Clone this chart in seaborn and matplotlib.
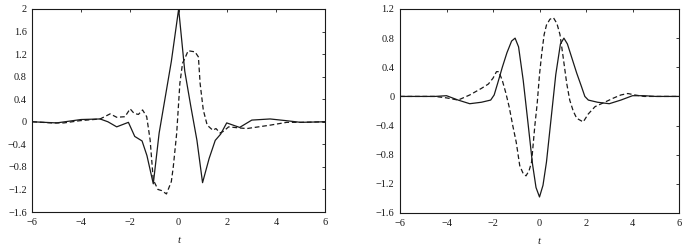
import numpy as np
import pandas as pd
import seaborn as sns
import matplotlib
matplotlib.use("Agg")
import matplotlib.pyplot as plt

# ---- Left panel data ----
left_solid_t = [-6, -5.0, -4.0, -3.22, -2.9, -2.54, -2.06, -1.8, -1.5, -1.3, -1.04,
                -0.8, -0.3, 0.0, 0.25, 0.5, 0.75, 0.98, 1.25, 1.5, 1.72, 1.97,
                2.5, 3.0, 3.75, 4.4, 5.0, 6]
left_solid_y = [0.0, -0.02, 0.04, 0.05, 0.0, -0.09, -0.01, -0.26, -0.34, -0.6, -1.1,
                -0.2, 1.07, 2.0, 0.9, 0.27, -0.33, -1.08, -0.65, -0.33, -0.22, -0.02,
                -0.1, 0.03, 0.05, 0.02, -0.01, 0.0]

left_dash_t = [-6, -5.2, -4.7, -4.04, -3.22, -2.81, -2.54, -2.2, -1.99, -1.83, -1.65,
               -1.48, -1.31, -1.17, -1.04, -0.85, -0.7, -0.5, -0.3, -0.22, -0.08,
               0.05, 0.16, 0.25, 0.39, 0.67, 0.81, 0.88, 1.01, 1.17, 1.4, 1.53, 1.7,
               1.83, 2.05, 2.5, 2.8, 3.75, 4.43, 5.0, 6]
left_dash_y = [0.0, -0.02, -0.02, 0.02, 0.05, 0.14, 0.08, 0.09, 0.23, 0.15, 0.13,
               0.21, 0.09, -0.32, -1.03, -1.2, -1.22, -1.28, -1.06, -0.8, -0.2,
               0.68, 1.04, 1.12, 1.26, 1.24, 1.15, 0.68, 0.21, -0.06, -0.15, -0.12, -0.2,
               -0.17, -0.09, -0.11, -0.12, -0.06, -0.01, -0.01, 0.0]

# ---- Right panel data ----
right_solid_t = [-6, -5, -4.5, -4, -3.5, -3, -2.5, -2.1, -1.95, -1.8, -1.6, -1.4, -1.2,
                 -1.05, -0.9, -0.7, -0.5, -0.3, -0.15, 0, 0.15, 0.3, 0.5, 0.7, 0.9,
                 1.05, 1.2, 1.4, 1.6, 1.8, 1.95, 2.1, 2.5, 3, 3.5, 4, 4.5, 5, 6]
right_solid_y = [0, 0, 0.0, 0.01, -0.05, -0.1, -0.08, -0.05, 0.02, 0.18, 0.4, 0.6, 0.76,
                 0.8, 0.68, 0.22, -0.35, -0.93, -1.25, -1.38, -1.22, -0.9, -0.3, 0.3, 0.72,
                 0.8, 0.72, 0.52, 0.32, 0.14, 0.0, -0.05, -0.08, -0.1, -0.05, 0.01, 0.01, 0, 0]

right_dash_t = [-6, -5, -4.5, -4, -3.5, -3, -2.5, -2.2, -2.0, -1.85, -1.75, -1.6, -1.45,
                -1.3, -1.15, -1.0, -0.85, -0.7, -0.58, -0.45, -0.34, -0.2, -0.1, 0.0,
                0.1, 0.2, 0.3, 0.45, 0.6, 0.75, 0.88, 1.0, 1.17, 1.3, 1.45, 1.6, 1.88,
                2.1, 2.39, 2.8, 3.2, 3.5, 3.8, 4.1, 4.5, 5, 6]
right_dash_y = [0, 0, 0, -0.02, -0.05, 0.02, 0.11, 0.17, 0.25, 0.34, 0.34, 0.22, 0.05,
                -0.15, -0.4, -0.63, -0.95, -1.06, -1.09, -1.02, -0.9, -0.4, -0.1, 0.3,
                0.6, 0.85, 0.98, 1.06, 1.08, 1.0, 0.85, 0.58, 0.18, -0.05, -0.2, -0.3, -0.35,
                -0.24, -0.14, -0.08, -0.02, 0.02, 0.04, 0.02, 0, 0, 0]

x_ticks = [-6, -4, -2, 0, 2, 4, 6]
left_yticks = [-1.6, -1.2, -0.8, -0.4, 0, 0.4, 0.8, 1.2, 1.6, 2]
right_yticks = [-1.6, -1.2, -0.8, -0.4, 0, 0.4, 0.8, 1.2]

sns.set_theme(style="white")
plt.rcParams['font.family'] = ['Liberation Serif', 'DejaVu Serif']
plt.rcParams['axes.unicode_minus'] = True

fig = plt.figure(figsize=(6.85, 2.48), dpi=100)
ax1 = fig.add_axes([32.3 / 685, 1 - 212 / 248, (325 - 32.3) / 685, (212 - 9) / 248])
ax2 = fig.add_axes([400 / 685, 1 - 213 / 248, (679 - 400) / 685, (213 - 9) / 248])

col = "#1a1a1a"

def fmt(v):
    s = ("%g" % v)
    return s.replace("-", "\u2212")

def draw(ax, st, sy, dt, dy, yticks, ylim):
    sns.lineplot(x=st, y=sy, ax=ax, color=col, linewidth=0.9, linestyle='-')
    sns.lineplot(x=dt, y=dy, ax=ax, color=col, linewidth=0.9, dashes=False)
    ax.lines[-1].set_linestyle((0, (3.8, 2.2)))
    ax.set_xlim(-6, 6)
    ax.set_ylim(*ylim)
    ax.set_xticks(x_ticks)
    ax.set_xticklabels([fmt(v) for v in x_ticks])
    ax.set_yticks(yticks)
    ax.set_yticklabels([fmt(v) for v in yticks])
    ax.tick_params(direction='in', length=2.5, width=0.6, labelsize=7.4, colors=col,
                   top=True, right=True)
    ax.tick_params(axis='x', pad=4.5)
    ax.tick_params(axis='y', pad=4)
    for sp in ax.spines.values():
        sp.set_visible(True)
        sp.set_color(col)
        sp.set_linewidth(0.8)
    ax.set_xlabel("t", fontstyle='italic', fontsize=7.8, color=col, labelpad=6)
    ax.set_ylabel("")

draw(ax1, left_solid_t, left_solid_y, left_dash_t, left_dash_y, left_yticks, (-1.6, 2.0))
draw(ax2, right_solid_t, right_solid_y, right_dash_t, right_dash_y, right_yticks, (-1.6, 1.2))

fig.savefig("out.png", dpi=100)
